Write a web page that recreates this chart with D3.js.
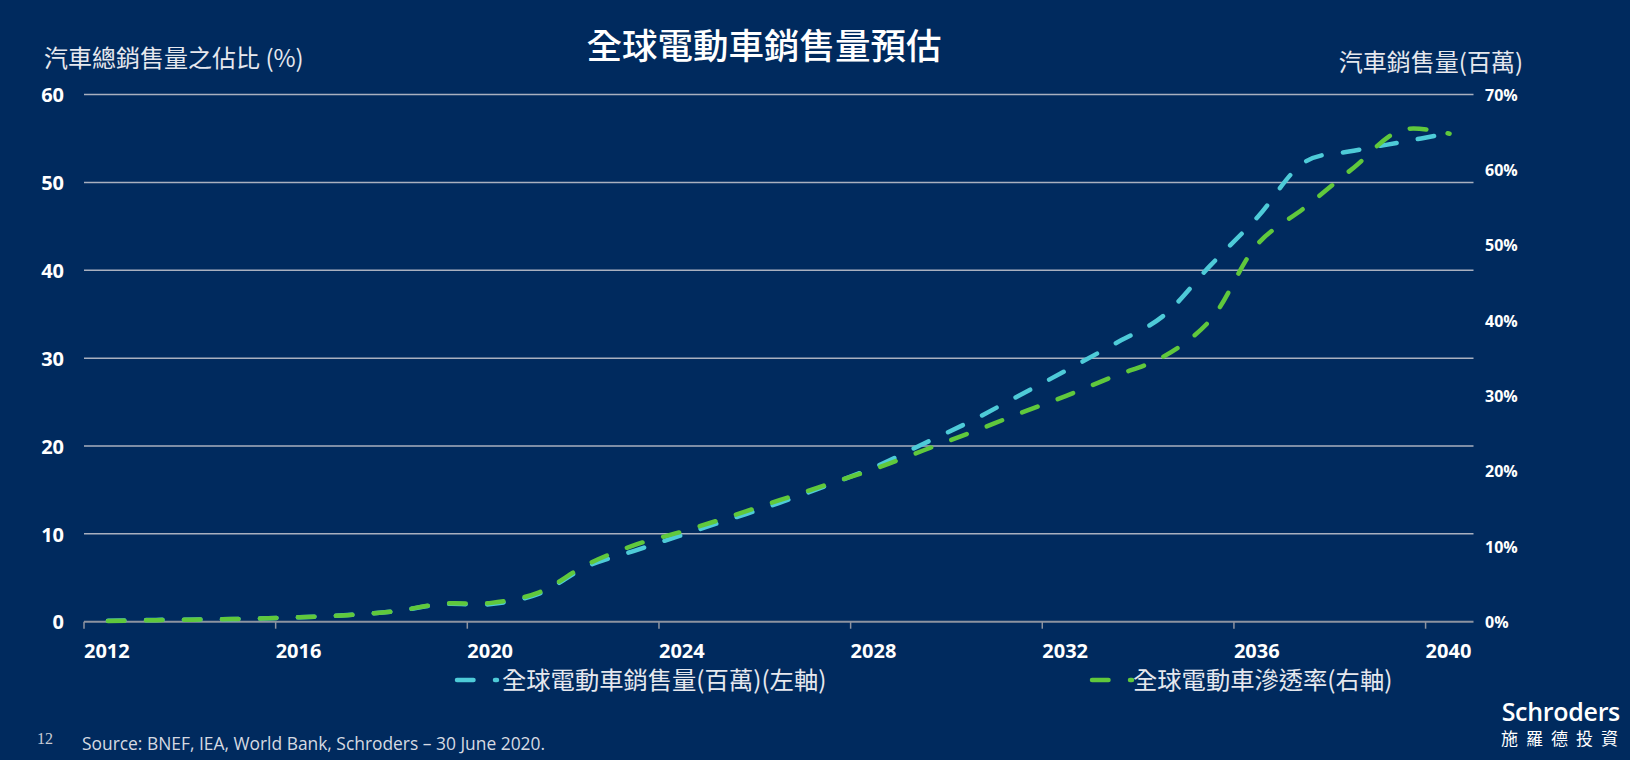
<!DOCTYPE html>
<html>
<head>
<meta charset="utf-8">
<script src="https://cdn.jsdelivr.net/npm/d3@7"></script>
<style>
  html, body { margin: 0; padding: 0; background: #002a5e; }
  svg { display: block; }
  text { font-family: "Open Sans", "Noto Sans CJK TC", sans-serif; }
</style>
</head>
<body>
<svg id="chart" width="1630" height="760"></svg>
<script>
// ---- data ----
const years = [2012, 2013, 2014, 2015, 2016, 2017, 2018, 2019, 2020, 2021,
               2022, 2023, 2024, 2025, 2026, 2027, 2028, 2029, 2030, 2031,
               2032, 2033, 2034, 2035, 2036, 2037, 2038, 2039, 2040];
// 全球電動車銷售量(百萬) — left axis
const evSales = [0.1, 0.2, 0.25, 0.35, 0.5, 0.75, 1.2, 2.0, 2.0, 3.2,
                 6.3, 8.1, 9.9, 11.7, 13.5, 15.5, 17.6, 20.2, 22.8, 25.7,
                 28.6, 31.6, 34.7, 40.5, 46.1, 52.4, 53.6, 54.6, 55.6];
// 全球電動車滲透率 (%) — right axis
const evShare = [0.1, 0.2, 0.3, 0.4, 0.6, 0.87, 1.4, 2.4, 2.5, 3.9,
                 7.6, 10.2, 12.0, 14.0, 16.1, 18.2, 20.3, 22.7, 25.1, 27.6,
                 30.0, 32.6, 35.1, 40.0, 50.2, 55.1, 60.3, 65.3, 64.8];
const xTickYears = [2012, 2016, 2020, 2024, 2028, 2032, 2036, 2040];
const leftTicks = [0, 10, 20, 30, 40, 50, 60];
const rightTicks = [0, 10, 20, 30, 40, 50, 60, 70];

const title = "全球電動車銷售量預估";
const leftTitle = "汽車總銷售量之佔比 (%)";
const rightTitle = "汽車銷售量(百萬)";
const seriesNames = ["全球電動車銷售量(百萬)(左軸)", "全球電動車滲透率(右軸)"];
const source = "Source: BNEF, IEA, World Bank, Schroders – 30 June 2020.";

// ---- layout ----
const colCyan = "#4ecbd8";
const colGreen = "#60c83c";
const svg = d3.select("#chart");

const x = d3.scaleBand().domain(years).range([84, 1473.5]).padding(0);
const yL = d3.scaleLinear().domain([0, 60]).range([621.7, 94.6]);
const yR = d3.scaleLinear().domain([0, 70]).range([621.7, 94.6]);
const cx = d => x(d) + x.bandwidth() / 2;

// gridlines
svg.append("g").selectAll("line")
  .data(leftTicks.filter(d => d > 0))
  .join("line")
  .attr("x1", 84).attr("x2", 1473.5)
  .attr("y1", d => yL(d)).attr("y2", d => yL(d))
  .attr("stroke", "#a9b0bf").attr("stroke-width", 1.5);

// x axis
const xAxis = d3.axisBottom(x).tickValues(xTickYears).tickSize(7).tickFormat(d => d);
const gx = svg.append("g").attr("transform", `translate(0,${yL(0)})`).call(xAxis);
gx.select(".domain").attr("stroke", "#8d93a0").attr("stroke-width", 2)
  .attr("d", `M84,0H1473.5`);
gx.selectAll(".tick").attr("transform", d => `translate(${x(d)},0)`);
gx.selectAll(".tick line").attr("stroke", "#8d93a0").attr("stroke-width", 1.5);
gx.selectAll(".tick text")
  .attr("fill", "#ffffff").attr("font-size", 20).attr("font-weight", 700)
  .attr("text-anchor", "start").attr("y", 36).attr("dy", 0)
  .style("font-family", '"Open Sans", sans-serif');

// left axis labels
const gl = svg.append("g").attr("transform", "translate(64,0)")
  .call(d3.axisLeft(yL).tickValues(leftTicks).tickSize(0).tickPadding(0));
gl.select(".domain").remove();
gl.selectAll(".tick text")
  .attr("fill", "#ffffff").attr("font-size", 20).attr("font-weight", 700)
  .attr("dy", "0.36em").attr("x", 0)
  .style("font-family", '"Open Sans", sans-serif');

// right axis labels
const gr = svg.append("g").attr("transform", "translate(1485,0)")
  .call(d3.axisRight(yR).tickValues(rightTicks).tickSize(0).tickPadding(0)
        .tickFormat(d => d + "%"));
gr.select(".domain").remove();
gr.selectAll(".tick text")
  .attr("fill", "#ffffff").attr("font-size", 16).attr("font-weight", 700)
  .attr("dy", "0.36em").attr("x", 0)
  .style("font-family", '"Open Sans", sans-serif');

// lines
const dash = "16.5,21.5";
const lineL = d3.line().x((d, i) => cx(years[i])).y(d => yL(d)).curve(d3.curveCatmullRom.alpha(0.5));
const lineR = d3.line().x((d, i) => cx(years[i])).y(d => yR(d)).curve(d3.curveCatmullRom.alpha(0.5));

svg.append("path").datum(evSales).attr("d", lineL)
  .attr("fill", "none").attr("stroke", colCyan).attr("stroke-width", 4.5)
  .attr("stroke-dasharray", dash).attr("stroke-linecap", "round");
svg.append("path").datum(evShare).attr("d", lineR)
  .attr("fill", "none").attr("stroke", colGreen).attr("stroke-width", 4.5)
  .attr("stroke-dasharray", dash).attr("stroke-linecap", "round");

// titles
svg.append("text").attr("x", 764).attr("y", 59).attr("text-anchor", "middle")
  .attr("fill", "#ffffff").attr("font-size", 35.5).attr("font-weight", 500)
  .style("font-family", '"Noto Sans CJK TC", sans-serif').text(title);
svg.append("text").attr("x", 44).attr("y", 67)
  .attr("fill", "#e6e8ee").attr("font-size", 24)
  .style("font-family", '"Noto Sans CJK TC", sans-serif').text(leftTitle);
svg.append("text").attr("x", 1523).attr("y", 71).attr("text-anchor", "end")
  .attr("fill", "#e6e8ee").attr("font-size", 24)
  .style("font-family", '"Noto Sans CJK TC", sans-serif').text(rightTitle);

// legend
const legend = [
  { name: seriesNames[0], color: colCyan, x0: 457, tx: 502 },
  { name: seriesNames[1], color: colGreen, x0: 1092, tx: 1133 }
];
const lg = svg.append("g").selectAll("g").data(legend).join("g");
lg.append("line")
  .attr("x1", d => d.x0).attr("x2", d => d.x0 + 40)
  .attr("y1", 680).attr("y2", 680)
  .attr("stroke", d => d.color).attr("stroke-width", 4.5)
  .attr("stroke-dasharray", dash).attr("stroke-linecap", "round");
lg.append("text")
  .attr("x", d => d.tx).attr("y", 689)
  .attr("fill", "#e6e8ee").attr("font-size", 24.3)
  .style("font-family", '"Noto Sans CJK TC", sans-serif')
  .text(d => d.name);

// footer
svg.append("text").attr("x", 37).attr("y", 744)
  .attr("fill", "#c8ccd6").attr("font-size", 16)
  .style("font-family", '"Liberation Serif", serif').text("12");
svg.append("text").attr("x", 82).attr("y", 750)
  .attr("fill", "#d6dae2").attr("font-size", 17.4)
  .style("font-family", '"Open Sans", sans-serif').text(source);

// logo
svg.append("text").attr("x", 1620).attr("y", 721).attr("text-anchor", "end")
  .attr("fill", "#ffffff").attr("font-size", 25).attr("font-weight", 600)
  .style("font-family", '"Open Sans", sans-serif').style("letter-spacing", "-0.3px")
  .text("Schroders");
svg.append("text").attr("x", 1501).attr("y", 745)
  .attr("fill", "#ffffff").attr("font-size", 17)
  .style("font-family", '"Noto Sans CJK TC", sans-serif').style("letter-spacing", "8px")
  .text("施羅德投資");
</script>
</body>
</html>
